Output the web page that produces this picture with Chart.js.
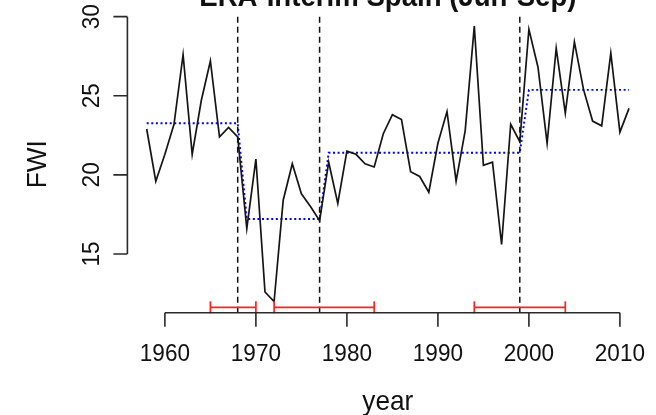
<!DOCTYPE html>
<html>
<head>
<meta charset="utf-8">
<title>FWI breakpoints</title>
<script src="https://cdn.jsdelivr.net/npm/chart.js@4.4.1/dist/chart.umd.min.js"></script>
<style>
  html, body { margin: 0; padding: 0; background: #fff; }
  #wrap { width: 656px; height: 415px; position: relative; overflow: hidden; }
</style>
</head>
<body>
<div id="wrap"><canvas id="fwiChart" width="656" height="415"></canvas></div>
<script>
// yearly mean FWI, 1958-2011
const firstYear = 1958;
const fwi = [
  22.9, 19.6, 21.3, 23.2, 27.6, 21.3, 24.7, 27.2, 22.4, 23.0,
  22.4, 16.6, 21.0, 12.6, 12.0, 18.4, 20.7, 18.8, 18.0, 17.1,
  20.8, 18.2, 21.5, 21.3, 20.7, 20.5, 22.6, 23.8, 23.5, 20.2,
  19.9, 18.9, 22.0, 24.0, 19.6, 22.8, 29.4, 20.6, 20.8, 15.6,
  23.2, 22.1, 29.2, 26.8, 22.0, 28.0, 23.9, 28.4, 25.4, 23.4,
  23.1, 27.7, 22.7, 24.2
];

// breakpoints, segment means and their confidence intervals
const breakYears = [1968, 1977, 1999];
const segmentMeans = [23.26, 17.21, 21.40, 25.37];
const ciLower = [1965, 1972, 1994];
const ciUpper = [1970, 1983, 2004];
const ciLevel = 11.63;

const xTicks = [1960, 1970, 1980, 1990, 2000, 2010];
const yTicks = [15, 20, 25, 30];
const xRange = [1955.88, 2013.12];
const yRange = [11.29, 30.04];

const years = fwi.map((_, i) => firstYear + i);
const series = years.map((yr, i) => ({ x: yr, y: fwi[i] }));
const fitted = years.map(yr => ({
  x: yr,
  y: segmentMeans[breakYears.filter(b => b < yr).length]
}));

const breakLines = breakYears.map(b => ({
  data: [{ x: b, y: yRange[0] }, { x: b, y: yRange[1] }],
  borderColor: '#111',
  borderWidth: 1.5,
  borderDash: [6, 4],
  pointRadius: 0
}));

const ciLines = ciLower.map((lo, i) => ({
  data: [{ x: lo, y: ciLevel }, { x: ciUpper[i], y: ciLevel }],
  borderColor: '#ff2020',
  borderWidth: 1.7,
  pointStyle: 'line',
  pointRotation: 90,
  pointRadius: 6,
  pointBorderColor: '#ff2020',
  pointBorderWidth: 1.7,
  clip: false
}));

// text squeezed a little horizontally, like the R device font
function label(ctx, s, x, y, size, rot, bold) {
  ctx.save();
  ctx.translate(x, y);
  ctx.rotate(rot);
  ctx.scale(0.92, 1);
  ctx.font = (bold ? 'bold ' : '') + size + 'px "Liberation Sans", Arial, sans-serif';
  ctx.textAlign = 'center';
  ctx.textBaseline = 'alphabetic';
  ctx.fillStyle = '#111';
  ctx.fillText(s, 0, 0);
  ctx.restore();
}

// base-graphics style axes: lines only span first to last tick
const rAxes = {
  id: 'rAxes',
  afterDraw(chart) {
    const { ctx, chartArea, scales: { x, y } } = chart;
    const bottom = chartArea.bottom;
    const left = chartArea.left;
    ctx.save();
    ctx.strokeStyle = '#2a2a2a';
    ctx.lineWidth = 1.6;
    ctx.beginPath();
    ctx.moveTo(x.getPixelForValue(xTicks[0]), bottom);
    ctx.lineTo(x.getPixelForValue(xTicks[xTicks.length - 1]), bottom);
    xTicks.forEach(t => {
      const px = x.getPixelForValue(t);
      ctx.moveTo(px, bottom);
      ctx.lineTo(px, bottom + 14);
    });
    ctx.moveTo(left, y.getPixelForValue(yTicks[0]));
    ctx.lineTo(left, y.getPixelForValue(yTicks[yTicks.length - 1]));
    yTicks.forEach(t => {
      const py = y.getPixelForValue(t);
      ctx.moveTo(left, py);
      ctx.lineTo(left - 14, py);
    });
    ctx.stroke();
    ctx.restore();

    xTicks.forEach(t => label(ctx, String(t), x.getPixelForValue(t), bottom + 48.5, 24.5, 0, false));
    yTicks.forEach(t => label(ctx, String(t), left - 28, y.getPixelForValue(t), 24.5, -Math.PI / 2, false));

    const midX = (chartArea.left + chartArea.right) / 2;
    const midY = (chartArea.top + chartArea.bottom) / 2;
    label(ctx, 'year', midX, bottom + 97, 28.5, 0, false);
    label(ctx, 'FWI', left - 81, midY, 28.5, -Math.PI / 2, false);
    label(ctx, 'ERA-Interim Spain (Jun-Sep)', midX, chartArea.top - 10, 30, 0, true);
  }
};

new Chart(document.getElementById('fwiChart').getContext('2d'), {
  type: 'line',
  data: {
    datasets: [
      ...ciLines,
      ...breakLines,
      {
        data: series,
        borderColor: '#151515',
        borderWidth: 1.7,
        pointRadius: 0
      },
      {
        data: fitted,
        borderColor: '#0000ff',
        borderWidth: 1.9,
        borderDash: [2, 2.6],
        pointRadius: 0
      }
    ]
  },
  options: {
    responsive: false,
    devicePixelRatio: 1,
    animation: false,
    events: [],
    layout: { padding: { left: 127.4, top: 16, right: 5.8, bottom: 102.3 } },
    plugins: {
      legend: { display: false },
      tooltip: { enabled: false },
      title: { display: false }
    },
    elements: { line: { tension: 0 } },
    scales: {
      x: { type: 'linear', min: xRange[0], max: xRange[1], display: false },
      y: { type: 'linear', min: yRange[0], max: yRange[1], display: false }
    }
  },
  plugins: [rAxes]
});
</script>
</body>
</html>
